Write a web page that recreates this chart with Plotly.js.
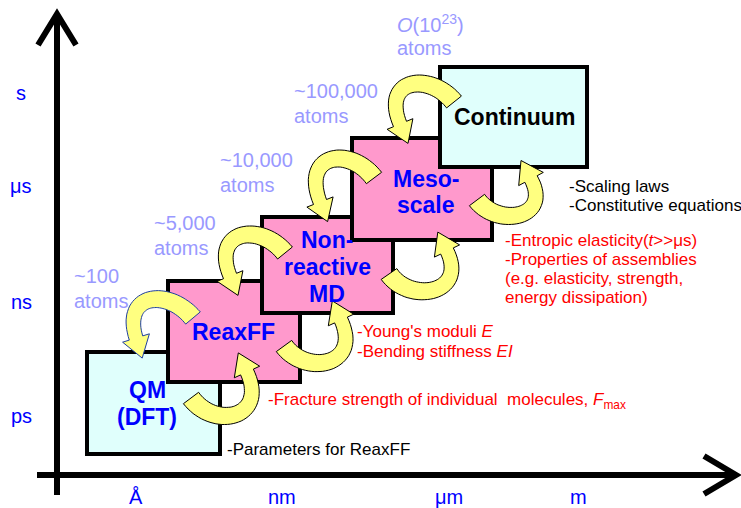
<!DOCTYPE html>
<html>
<head>
<meta charset="utf-8">
<script src="https://cdn.plot.ly/plotly-3.0.1.min.js"></script>
<style>html,body{margin:0;padding:0;background:#fff;}#chart{width:741px;height:508px;}</style>
</head>
<body>
<div id="chart"></div>
<script>
// ---------- data ----------
const yTickLabels = ['ps', 'ns', 'μs', 's'];
const xTickLabels = ['Å', 'nm', 'μm', 'm'];
const methods = ['QM (DFT)', 'ReaxFF', 'Non-reactive MD', 'Meso-scale', 'Continuum'];
const methodLabelLines = [['QM', '(DFT)'], ['ReaxFF'], ['Non-', 'reactive', 'MD'], ['Meso-', 'scale'], ['Continuum']];
const systemSizes = ['~100', '~5,000', '~10,000', '~100,000', '<i>O</i>(10<sup>23</sup>)'];
const outputs = [
  ['-Parameters for ReaxFF'],
  ['-Fracture strength of individual  molecules, <i>F</i><sub>max</sub>'],
  ["-Young's moduli <i>E</i>", '-Bending stiffness <i>EI</i>'],
  ['-Entropic elasticity(<i>t</i>>>μs)', '-Properties of assemblies', '(e.g. elasticity, strength,', 'energy dissipation)'],
  ['-Scaling laws', '-Constitutive equations']
];

// ---------- diagram geometry (pixel space) ----------
const W = 741, H = 508;
const FONT = 'Liberation Sans, Arial, sans-serif';
const yTickPos = [416, 302, 186, 93];
const xTickPos = [136, 282, 449, 578];
const boxX0 = [87, 168, 262, 352, 440];
const boxX1 = [220, 300, 393, 492, 587];
const boxY0 = [352, 281, 217, 138, 67];
const boxY1 = [454, 382, 313, 240, 167];
const boxFill = ['#e0fffc', '#ff99cc', '#ff99cc', '#ff99cc', '#e0fffc'];
const labelCx = [147, 233, 327, 426, 514];
const labelY = [[390, 417], [332], [240, 267, 294], [179, 205], [117]];
const labelColor = ['#0000ff', '#0000ff', '#0000ff', '#0000ff', '#000000'];
const sizeX = [72, 152, 218, 292, 395];
const sizeY = [276, 223, 160, 91, 23];
const outX = [225, 266, 355, 503, 567];
const outY = [[449], [401], [331, 351], [240, 259, 278, 297], [186, 205]];
const outColor = ['#000000', '#ff0000', '#ff0000', '#ff0000', '#000000'];

// curved arrows: cubic bezier centre lines [P0,P1,P2,P3]
const downArrows = [
  [[193, 318], [168, 288], [122, 293], [136, 338]],
  [[285, 253], [260, 222], [211, 230], [230, 276]],
  [[374, 178], [350, 146], [301, 153], [320, 202]],
  [[454, 102], [430, 72], [381, 78], [400, 124]]
];
const upArrows = [
  [[191, 398], [215, 430], [268, 418], [247, 372]],
  [[284, 346], [306, 376], [362, 366], [341, 320]],
  [[389, 274], [410, 304], [468, 294], [447, 251]],
  [[477, 200], [498, 228], [552, 218], [531, 179]]
];

function bez(P, t) {
  const u = 1 - t;
  return [0, 1].map(k => u*u*u*P[0][k] + 3*u*u*t*P[1][k] + 3*u*t*t*P[2][k] + t*t*t*P[3][k]);
}
function bezD(P, t) {
  const u = 1 - t;
  return [0, 1].map(k => 3*u*u*(P[1][k]-P[0][k]) + 6*u*t*(P[2][k]-P[1][k]) + 3*t*t*(P[3][k]-P[2][k]));
}
function arrowPath(P, w0, w1, hw, hl) {
  const N = 40, left = [], right = [];
  for (let i = 0; i <= N; i++) {
    const t = i / N, p = bez(P, t), d = bezD(P, t);
    const L = Math.hypot(d[0], d[1]);
    const n = [-d[1] / L, d[0] / L];
    const w = (w0 + (w1 - w0) * t) / 2;
    left.push([p[0] + n[0]*w, p[1] + n[1]*w]);
    right.push([p[0] - n[0]*w, p[1] - n[1]*w]);
  }
  const p3 = P[3], d = bezD(P, 1), L = Math.hypot(d[0], d[1]);
  const T = [d[0]/L, d[1]/L], n = [-T[1], T[0]];
  const pts = left.concat([
    [p3[0] + n[0]*hw, p3[1] + n[1]*hw],
    [p3[0] + T[0]*hl, p3[1] + T[1]*hl],
    [p3[0] - n[0]*hw, p3[1] - n[1]*hw]
  ]).concat(right.slice().reverse());
  return 'M' + pts.map(p => p[0].toFixed(1) + ',' + p[1].toFixed(1)).join('L') + 'Z';
}

const shapes = [];
methods.forEach((m, i) => {
  shapes.push({type: 'rect', xref: 'x', yref: 'y', x0: boxX0[i], x1: boxX1[i], y0: boxY0[i], y1: boxY1[i],
    fillcolor: boxFill[i], line: {color: '#000', width: 4}});
});
downArrows.forEach((P, i) => {
  shapes.push({type: 'path', xref: 'x', yref: 'y', path: arrowPath(P, 19, 14, 14, 21),
    fillcolor: '#ffff80', line: {color: i === 0 ? '#1f3f9f' : '#000', width: 1}});
});
upArrows.forEach((P) => {
  shapes.push({type: 'path', xref: 'x', yref: 'y', path: arrowPath(P, 19, 14, 14, 21),
    fillcolor: '#ffff80', line: {color: '#000', width: 1}});
});
shapes.push({type: 'line', xref: 'x', yref: 'y', x0: 57, x1: 57, y0: 495, y1: 16, line: {color: '#000', width: 6}});
shapes.push({type: 'path', xref: 'x', yref: 'y', path: 'M38,45L57,14L76,45', line: {color: '#000', width: 6}});
shapes.push({type: 'line', xref: 'x', yref: 'y', x0: 37, x1: 734, y0: 475, y1: 475, line: {color: '#000', width: 6}});
shapes.push({type: 'path', xref: 'x', yref: 'y', path: 'M704,456L736,475L704,494', line: {color: '#000', width: 6}});

const ann = [];
function txt(x, y, text, size, color, anchor, bold) {
  ann.push({xref: 'x', yref: 'y', x: x, y: y, text: bold ? '<b>' + text + '</b>' : text, showarrow: false,
    xanchor: anchor, yanchor: 'middle', font: {family: FONT, size: size, color: color}});
}
yTickLabels.forEach((t, i) => txt(21, yTickPos[i], t, 20, '#0000ff', 'center'));
xTickLabels.forEach((t, i) => txt(xTickPos[i], 497, t, 20, '#0000ff', 'center'));
methodLabelLines.forEach((lines, i) => lines.forEach((l, j) => txt(labelCx[i], labelY[i][j], l, 23, labelColor[i], 'center', true)));
systemSizes.forEach((s, i) => {
  txt(sizeX[i], sizeY[i], s, 20, '#9999ff', 'left');
  txt(sizeX[i], sizeY[i] + 24.5, 'atoms', 20, '#9999ff', 'left');
});
outputs.forEach((lines, i) => lines.forEach((l, j) => txt(outX[i], outY[i][j], l, 17, outColor[i], 'left')));

Plotly.newPlot('chart', [], {
  width: W, height: H, margin: {l: 0, r: 0, t: 0, b: 0},
  paper_bgcolor: '#fff', plot_bgcolor: '#fff',
  xaxis: {range: [0, W], visible: false, fixedrange: true},
  yaxis: {range: [H, 0], visible: false, fixedrange: true},
  showlegend: false, shapes: shapes, annotations: ann
}, {displayModeBar: false, staticPlot: true});
</script>
</body>
</html>
